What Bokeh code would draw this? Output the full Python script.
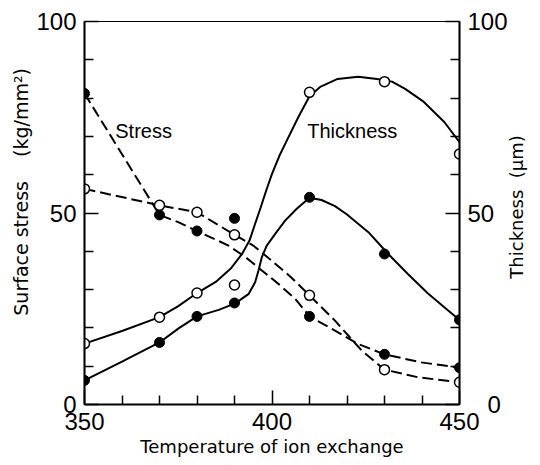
import math
from bokeh.plotting import figure
from bokeh.models import Range1d, LinearAxis, FixedTicker, Label
from bokeh.embed import file_html
from bokeh.resources import INLINE

# ---- data ----
temperature = [350, 370, 380, 390, 410, 430, 450]

stress_filled = [81.2, 49.5, 45.3, 48.6, 23.0, 13.1, 9.6]
stress_open = [56.3, 52.0, 50.2, 44.3, 28.5, 9.1, 5.8]
thickness_filled = [6.3, 16.2, 23.0, 26.5, 54.1, 39.3, 22.1]
thickness_open = [15.9, 22.8, 29.1, 31.2, 81.5, 84.3, 65.4]

# hand-drawn curves
stress_filled_curve_x = [350, 370, 375, 380, 388.4, 392.9, 397.3, 401.7, 406.2, 410, 416.8, 423, 430, 439.8, 450]
stress_filled_curve_y = [81.2, 49.5, 47.6, 45.3, 41.5, 38.5, 35.0, 31.5, 27.6, 23.0, 19.3, 15.8, 13.1, 11.0, 9.6]

stress_open_curve_x = [350, 370, 380, 390, 395, 400, 405, 410, 416.8, 423.9, 430, 439, 450]
stress_open_curve_y = [56.3, 52.0, 50.2, 44.3, 41.5, 37.5, 33.3, 28.5, 21.9, 14.1, 9.1, 7.1, 5.8]

thickness_filled_curve_x = [350, 360, 370, 375, 380, 385.8, 390.2, 393.8, 395.5, 396.4, 397.3, 398.6, 400.9,
                            403.5, 406.6, 410, 413.2, 416.8, 420, 425.7, 431, 436.3, 441.6, 446.9, 450]
thickness_filled_curve_y = [6.3, 11.2, 16.2, 19.8, 23.0, 24.7, 26.4, 28.9, 31.9, 35.0, 38.5, 41.5, 44.6,
                            48.0, 51.1, 54.0, 53.4, 51.8, 49.6, 45.0, 39.3, 34.0, 29.0, 24.6, 22.1]

thickness_open_curve_x = [350, 360, 370, 375, 380, 385, 389, 392, 394, 395.5, 397, 398.5, 400, 402, 404.5,
                          407, 410, 413, 417.5, 423, 428, 432, 435.5, 440.5, 446, 450]
thickness_open_curve_y = [15.9, 19.2, 22.8, 25.7, 29.1, 32.0, 35.5, 39.3, 42.8, 47.2, 51.5, 56.0, 60.2, 65.0, 70.0,
                          75.0, 80.5, 83.0, 85.0, 85.6, 85.0, 84.3, 82.4, 79.0, 73.7, 68.5]

x_major = [350, 400, 450]
x_minor = [360, 370, 380, 390, 410, 420, 430, 440]
y_major = [0, 50, 100]
y_minor = [10, 20, 30, 40, 60, 70, 80, 90]

p = figure(width=540, height=465, x_range=Range1d(350, 450), y_range=Range1d(0, 100),
           output_backend="svg", toolbar_location=None,
           min_border_left=84, min_border_right=79, min_border_top=21, min_border_bottom=61)
p.extra_y_ranges = {"thick": Range1d(0, 100)}
p.add_layout(LinearAxis(y_range_name="thick"), "right")

p.xgrid.visible = False
p.ygrid.visible = False
p.outline_line_color = "black"
p.outline_line_width = 1.2
p.background_fill_color = "white"
p.border_fill_color = "white"

tick_font = "Liberation Sans"
for ax in p.xaxis + p.yaxis:
    ax.axis_line_width = 2
    ax.axis_line_color = "black"
    ax.major_tick_in = 14
    ax.major_tick_out = 0
    ax.minor_tick_in = 9
    ax.minor_tick_out = 0
    ax.major_tick_line_width = 1.5
    ax.minor_tick_line_width = 1.5
    ax.major_tick_line_color = "black"
    ax.minor_tick_line_color = "black"
    ax.major_label_text_font = tick_font
    ax.major_label_text_font_size = "24px"
    ax.major_label_text_color = "black"
    ax.major_label_standoff = 8
    ax.axis_label_text_font = "DejaVu Sans"
    ax.axis_label_text_font_size = "18px"
    ax.axis_label_text_font_style = "normal"
    ax.axis_label_text_color = "black"

p.xaxis.ticker = FixedTicker(ticks=x_major, minor_ticks=x_minor)
for ax in p.yaxis:
    ax.ticker = FixedTicker(ticks=y_major, minor_ticks=y_minor)

p.xaxis.axis_label = "Temperature of ion exchange"
p.xaxis.axis_label_standoff = 3

left_axis = p.yaxis[0]
right_axis = p.yaxis[1]
left_axis.axis_label = "\u00a0" * 7 + "Surface stress\u00a0\u00a0\u00a0\u00a0(kg/mm\u00b2)"
left_axis.axis_label_text_font_size = "19px"
left_axis.axis_label_standoff = 1
right_axis.major_label_overrides = {0: "\u2007\u00a00"}

# right-hand axis title, reading bottom to top like the left one
right_axis.axis_label = "\u00a0" * 22 + "Thickness\u00a0\u00a0(\u03bcm)"
right_axis.axis_label_standoff = 6
right_axis.axis_label_orientation = math.pi / 2
right_axis.axis_label_align = "start"

# curves
p.line(stress_filled_curve_x, stress_filled_curve_y, line_color="black", line_width=2, line_dash="11 5")
p.line(stress_open_curve_x, stress_open_curve_y, line_color="black", line_width=2, line_dash="11 5")
p.line(thickness_filled_curve_x, thickness_filled_curve_y, line_color="black", line_width=2,
       y_range_name="thick")
p.line(thickness_open_curve_x, thickness_open_curve_y, line_color="black", line_width=2,
       y_range_name="thick")

# markers
p.scatter(temperature, stress_filled, size=10, fill_color="black", line_color="black")
p.scatter(temperature, stress_open, size=10, fill_color="white", line_color="black", line_width=1.5)
p.scatter(temperature, thickness_filled, size=10, fill_color="black", line_color="black",
          y_range_name="thick")
p.scatter(temperature, thickness_open, size=10, fill_color="white", line_color="black", line_width=1.5,
          y_range_name="thick")

p.add_layout(Label(x=358.2, y=71.5, text="Stress", text_font="Liberation Sans", text_font_size="20px",
                   text_baseline="middle", text_align="left", text_color="black"))
p.add_layout(Label(x=409.4, y=71.3, text="Thickness", text_font="Liberation Sans", text_font_size="20px",
                   text_baseline="middle", text_align="left", text_color="black"))

open("out.html", "w").write(file_html(p, INLINE))
